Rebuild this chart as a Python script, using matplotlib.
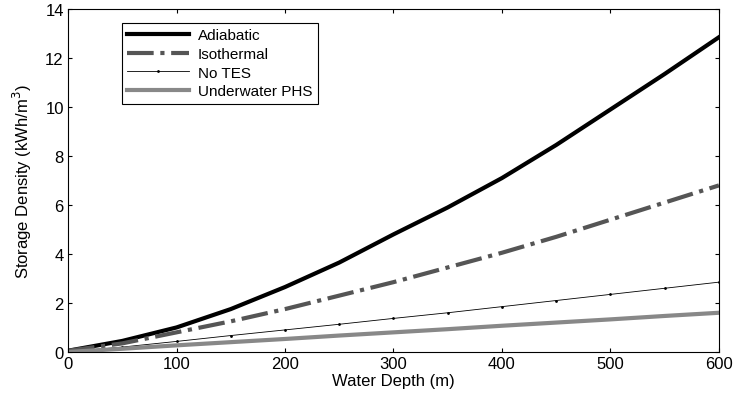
import numpy as np
import matplotlib
matplotlib.use('Agg')
import matplotlib.pyplot as plt

plt.rcParams['font.family'] = ['Liberation Sans', 'DejaVu Sans']

depth = [0, 50, 100, 150, 200, 250, 300, 350, 400, 450, 500, 550, 600]
adiabatic = [0.05, 0.45, 1.0, 1.75, 2.65, 3.65, 4.8, 5.9, 7.1, 8.45, 9.9, 11.35, 12.85]
isothermal = [0.05, 0.35, 0.8, 1.25, 1.75, 2.3, 2.85, 3.45, 4.05, 4.7, 5.4, 6.1, 6.8]
no_tes = [0.0, 0.2, 0.43, 0.67, 0.9, 1.13, 1.37, 1.6, 1.85, 2.1, 2.35, 2.6, 2.85]
phs = [0.0, 0.13, 0.27, 0.4, 0.53, 0.67, 0.8, 0.93, 1.07, 1.2, 1.33, 1.47, 1.6]

fig = plt.figure(figsize=(7.33, 4.02), dpi=100)
ax = fig.add_axes([0.0928, 0.122, 0.888, 0.853])

ax.plot(depth, adiabatic, color='black', lw=3, label='Adiabatic')
ax.plot(depth, isothermal, color='#555555', lw=3, ls='-.', label='Isothermal')
ax.plot(depth, no_tes, color='black', lw=0.6, marker='.', markersize=2, label='No TES')
ax.plot(depth, phs, color='#888888', lw=3, label='Underwater PHS')

ax.set_xlim(0, 600)
ax.set_ylim(0, 14)
ax.set_xticks(range(0, 601, 100))
ax.set_yticks(range(0, 15, 2))
ax.tick_params(direction='in', top=True, right=True, labelsize=12, length=3, pad=3)
ax.set_xlabel('Water Depth (m)', fontsize=12, labelpad=1)
ax.set_ylabel('Storage Density (kWh/m$^3$)', fontsize=12, labelpad=8)

leg = ax.legend(loc='upper left', bbox_to_anchor=(0.083, 0.959), fontsize=11,
                fancybox=False, edgecolor='black', framealpha=1, borderaxespad=0,
                handlelength=4.0, handletextpad=0.6, borderpad=0.35, labelspacing=0.3)
leg.get_frame().set_linewidth(0.8)

fig.savefig('out.png', dpi=100)
